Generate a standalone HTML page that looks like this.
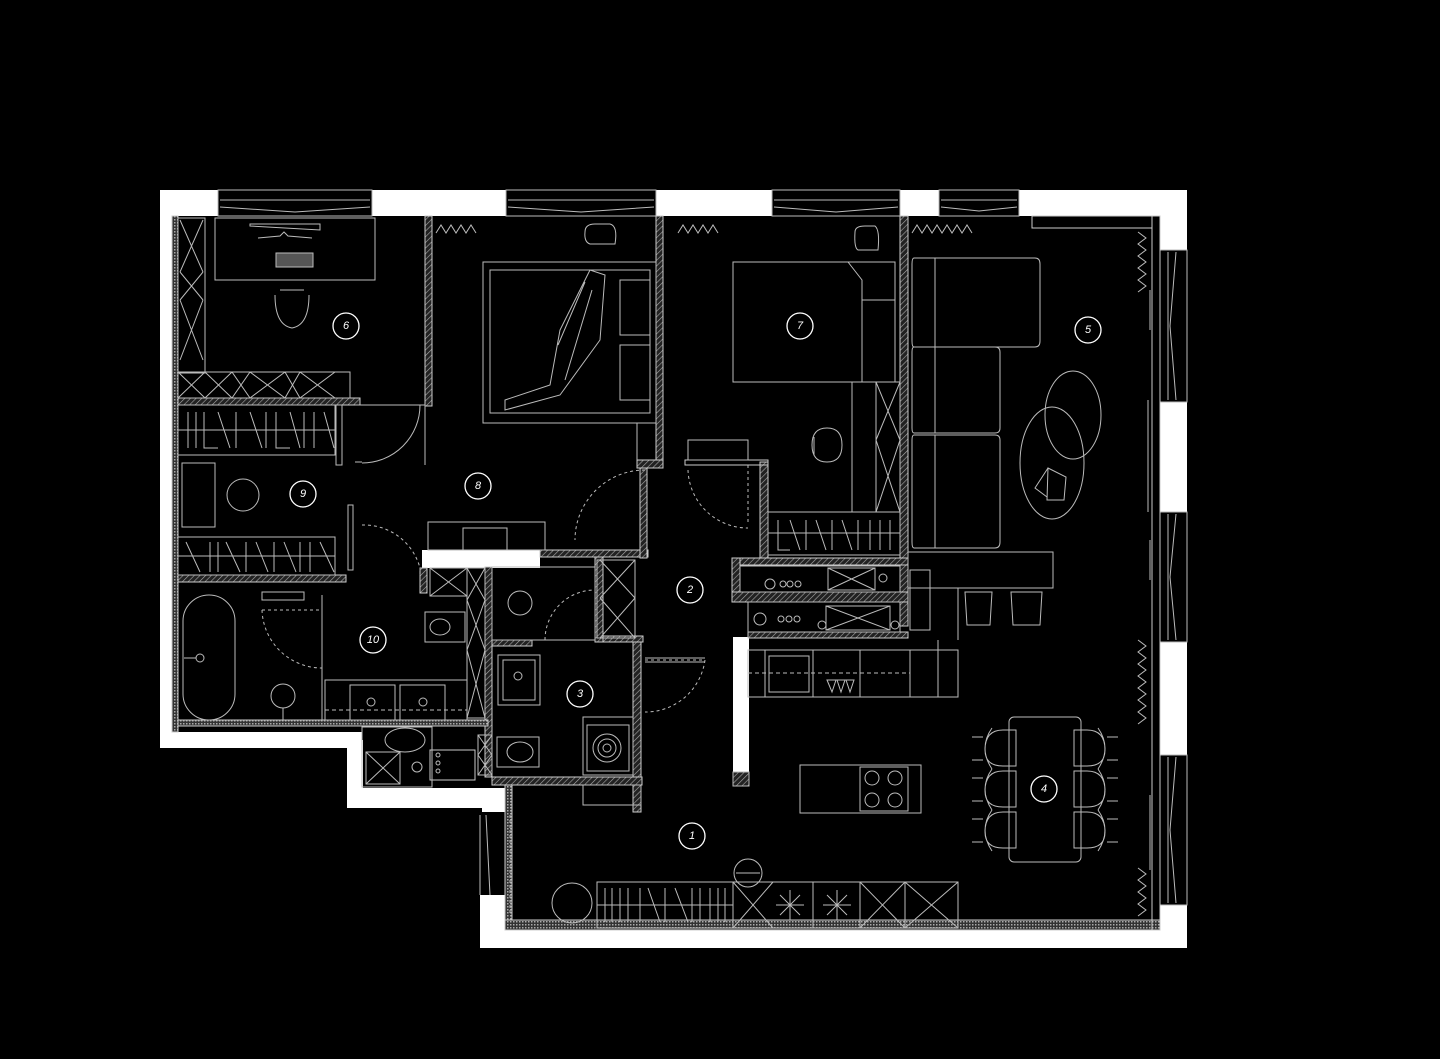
<!DOCTYPE html>
<html><head><meta charset="utf-8"><style>
html,body{margin:0;padding:0;background:#000;}
svg{display:block;}
text{font-family:"Liberation Sans",sans-serif;font-style:italic;font-size:11px;fill:#fff;text-anchor:middle;dominant-baseline:central;}
</style></head><body>
<svg width="1440" height="1059" viewBox="0 0 1440 1059" xmlns="http://www.w3.org/2000/svg">
<defs>
<pattern id="h" width="4" height="4" patternUnits="userSpaceOnUse" patternTransform="rotate(45)">
<rect width="4" height="4" fill="#222"/><line x1="0" y1="0" x2="0" y2="4" stroke="#aaa" stroke-width="1.2"/>
</pattern>
<pattern id="c" width="3" height="3" patternUnits="userSpaceOnUse">
<rect width="3" height="3" fill="#333"/><rect width="1.5" height="1.5" fill="#aaa"/>
</pattern>
</defs>
<rect width="1440" height="1059" fill="#000"/>

<!-- Outer white walls -->
<g fill="#fff">
<rect x="160" y="190" width="1027" height="26"/>
<rect x="160" y="190" width="18" height="558"/>
<rect x="160" y="732" width="202" height="16"/>
<rect x="347" y="740" width="16" height="68"/>
<rect x="347" y="788" width="160" height="20"/>
<rect x="482" y="788" width="25" height="24"/>
<rect x="480" y="895" width="25" height="53"/>
<rect x="480" y="930" width="707" height="18"/>
<rect x="1160" y="190" width="27" height="758"/>
<rect x="422" y="550" width="118" height="18"/>
<rect x="733" y="637" width="16" height="135"/>
</g>
<!-- window gaps top -->
<g fill="#000" stroke="#bbb" stroke-width="1">
<rect x="218" y="190" width="154" height="26"/>
<rect x="506" y="190" width="150" height="26"/>
<rect x="772" y="190" width="128" height="26"/>
<rect x="939" y="190" width="80" height="26"/>
<rect x="1160" y="250" width="27" height="152"/>
<rect x="1160" y="512" width="27" height="130"/>
<rect x="1160" y="755" width="27" height="150"/>
</g>
<g stroke="#bbb" stroke-width="1" fill="none">
<path d="M220 200 H370 M220 207 L295 212 L370 207 M508 200 H654 M508 207 L581 212 L654 207 M774 200 H898 M774 207 L836 212 L898 207 M941 200 H1017 M941 207 L979 211 L1017 207"/>
<path d="M1168 252 V400 M1176 252 L1170 326 L1176 400 M1168 514 V640 M1176 514 L1170 577 L1176 640 M1168 757 V903 M1176 757 L1170 830 L1176 903"/>
<path d="M1150 290 V330 M1150 540 V580 M1150 795 V870 M1148 400 V512"/>
<rect x="733" y="772" width="16" height="14" fill="url(#h)"/>
</g>
<!-- interior hatched walls -->
<g stroke="#ccc" stroke-width="1" fill="url(#h)">
<rect x="172" y="216" width="6" height="516" fill="url(#c)"/>
<rect x="178" y="398" width="182" height="7"/>
<rect x="425" y="216" width="7" height="190"/>
<rect x="178" y="575" width="168" height="7"/>
<rect x="656" y="216" width="7" height="246"/>
<rect x="637" y="460" width="26" height="8"/>
<rect x="540" y="550" width="108" height="7"/>
<rect x="640" y="468" width="7" height="90"/>
<rect x="760" y="462" width="8" height="100"/>
<rect x="685" y="460" width="83" height="5" fill="none"/>
<rect x="900" y="216" width="8" height="410"/>
<rect x="732" y="558" width="176" height="7"/>
<rect x="732" y="558" width="8" height="42"/>
<rect x="732" y="592" width="176" height="10"/>
<rect x="748" y="632" width="160" height="6"/>
<rect x="595" y="557" width="8" height="85"/>
<rect x="603" y="636" width="40" height="6"/>
<rect x="633" y="642" width="8" height="170"/>
<rect x="485" y="567" width="7" height="210"/>
<rect x="492" y="640" width="40" height="6"/>
<rect x="492" y="777" width="150" height="8"/>
<rect x="178" y="720" width="310" height="6" fill="url(#c)"/>
<rect x="420" y="568" width="7" height="25"/>
<rect x="505" y="785" width="7" height="140" fill="url(#c)"/>
<rect x="505" y="920" width="655" height="10" fill="url(#c)"/>
<rect x="1152" y="216" width="8" height="714" fill="none"/>
<rect x="1032" y="216" width="120" height="12" fill="none"/>
<rect x="430" y="750" width="45" height="30" fill="none"/>
</g>

<!-- furniture lines -->
<g stroke="#bbb" stroke-width="1" fill="none">
<!-- room 6 -->
<rect x="215" y="218" width="160" height="62"/>
<path d="M250 224 H320 L320 230 L250 226 Z"/>
<path d="M258 238 L280 236 L284 232 L288 236 L312 238"/>
<rect x="276" y="253" width="37" height="14" fill="#555"/>
<path d="M275 295 Q275 325 292 328 Q309 325 309 295 M280 290 H304"/>
<rect x="178" y="218" width="27" height="155"/>
<path d="M180 220 L203 272 M203 220 L180 272 M180 272 L203 300 M203 272 L180 300 M180 300 L203 360 M203 300 L180 360"/>
<rect x="178" y="372" width="172" height="26"/>
<path d="M178 372 L205 398 M205 372 L178 398 M205 372 L232 398 M232 372 L205 398 M232 372 L250 398 M250 372 L232 398 M250 372 L285 398 M285 372 L250 398 M285 372 L300 398 M300 372 L285 398 M300 372 L335 398 M335 372 L300 398"/>
<!-- room 9 -->
<rect x="178" y="405" width="157" height="50"/>
<path d="M178 430 H335 M188 412 V448 M196 412 V448 M204 412 V448 L218 448 M218 412 L230 448 M236 412 V448 M250 412 L262 448 M266 412 V448 M276 412 V448 L290 448 M290 412 L300 448 M304 412 V448 M314 412 V448 M324 412 L334 448"/>
<rect x="182" y="463" width="33" height="64"/>
<circle cx="243" cy="495" r="16"/>
<rect x="178" y="537" width="157" height="38"/>
<path d="M178 556 H335 M186 542 L200 572 M210 542 V572 M218 542 V572 M226 542 L240 572 M246 542 V572 M256 542 L268 572 M274 542 V572 M284 542 L296 572 M300 542 V572 M310 542 V572 M320 542 L334 572"/>
<rect x="336" y="405" width="6" height="60"/>
<rect x="348" y="505" width="5" height="65"/>
<path d="M355 405 H425 V465 M355 462 H362 M420 405 A58 58 0 0 1 362 463" stroke-dasharray="0"/>
<!-- bedroom -->
<rect x="483" y="262" width="173" height="161"/>
<rect x="490" y="270" width="160" height="143"/>
<rect x="620" y="280" width="30" height="55"/><rect x="620" y="345" width="30" height="55"/>
<path d="M590 270 L560 330 L550 385 L505 400 L505 410 L560 395 L600 340 L605 275 Z M585 282 L558 345 M592 290 L565 380"/>
<path d="M585 232 Q585 224 595 224 H610 Q618 226 615 244 H590 Q584 242 585 232 Z"/>
<path d="M637 423 V460"/>
<rect x="428" y="522" width="117" height="28"/>
<rect x="463" y="528" width="44" height="22"/>
<!-- room 7 -->
<rect x="733" y="262" width="162" height="120"/>
<path d="M848 262 L862 280 V382 M862 300 H895"/>
<path d="M855 232 Q855 226 865 226 H875 Q880 230 878 250 H858 Q854 248 855 232 Z"/>
<path d="M812 445 Q812 428 827 428 Q842 428 842 445 Q842 462 827 462 Q812 462 812 445 Z M814 437 V455"/>
<rect x="876" y="382" width="24" height="130"/>
<path d="M876 382 L900 440 M900 382 L876 440 M876 440 L900 512 M900 440 L876 512 M852 382 V512"/>
<rect x="768" y="512" width="132" height="43"/>
<path d="M768 533 H900 M778 520 V550 L790 550 M790 520 L800 550 M806 520 V550 M816 520 L826 550 M832 520 V550 M842 520 L852 550 M858 520 V550 M870 520 V550 M880 520 V550 M890 520 V550"/>
<rect x="688" y="440" width="60" height="20"/>
<path d="M748 465 V525 M688 470 A60 60 0 0 0 748 528" stroke-dasharray="3 3"/>
<!-- living -->
<path d="M914 258 H1035 Q1040 258 1040 264 V341 Q1040 347 1035 347 H914 Q912 347 912 341 V264 Q912 258 914 258 Z M935 258 V347"/>
<path d="M914 347 H995 Q1000 347 1000 352 V428 Q1000 433 995 433 H914 Q912 433 912 428 V352 Q912 347 914 347 Z M935 347 V433"/>
<path d="M914 435 H995 Q1000 435 1000 440 V542 Q1000 548 995 548 H914 Q912 548 912 542 V440 Q912 435 914 435 Z M935 435 V548"/>
<ellipse cx="1073" cy="415" rx="28" ry="44"/>
<ellipse cx="1052" cy="463" rx="32" ry="56"/>
<path d="M1048 468 L1066 477 L1064 500 L1047 500 Z M1048 468 L1035 488 L1047 497"/>
<rect x="908" y="552" width="145" height="36"/>
<path d="M965 592 H992 L990 625 H967 Z M1011 592 H1042 L1040 625 H1013 Z M958 588 V640 M910 570 H930 V630 H910 Z"/>
<!-- kitchen -->
<rect x="740" y="566" width="160" height="26"/>
<path d="M828 568 H875 V590 H828 Z M828 568 L875 590 M875 568 L828 590"/>
<circle cx="770" cy="584" r="5"/><circle cx="783" cy="584" r="3"/><circle cx="790" cy="584" r="3"/><circle cx="798" cy="584" r="3"/><circle cx="883" cy="578" r="4"/>
<rect x="748" y="602" width="152" height="30"/>
<path d="M826 606 H890 V630 H826 Z M826 606 L890 630 M890 606 L826 630"/>
<circle cx="760" cy="619" r="6"/><circle cx="781" cy="619" r="3"/><circle cx="789" cy="619" r="3"/><circle cx="797" cy="619" r="3"/><circle cx="822" cy="625" r="4"/><circle cx="895" cy="625" r="4"/>
<rect x="748" y="650" width="210" height="47"/>
<path d="M765 650 V697 M813 650 V697 M860 650 V697 M910 650 V697" />
<path d="M748 673 H910" stroke-dasharray="4 3"/>
<rect x="769" y="656" width="40" height="36"/>
<path d="M827 680 L832 692 L836 680 Z M837 680 L841 692 L845 680 Z M846 680 L850 692 L854 680 Z"/>
<rect x="800" y="765" width="121" height="48"/>
<rect x="860" y="767" width="48" height="44"/>
<circle cx="872" cy="778" r="7"/><circle cx="895" cy="778" r="7"/><circle cx="872" cy="800" r="7"/><circle cx="895" cy="800" r="7"/>
<path d="M938 640 V697 H958"/>
<!-- dining -->
<rect x="1009" y="717" width="72" height="145" rx="5"/>
<g id="ch">
<path d="M1016 730 H1003 Q985 730 985 750 Q985 766 1003 766 H1016 Z M992 728 Q978 748 992 769 M983 737 H972 M983 760 H972"/>
</g>
<use href="#ch" y="41"/><use href="#ch" y="82"/>
<g transform="translate(2090 0) scale(-1 1)"><use href="#ch"/><use href="#ch" y="41"/><use href="#ch" y="82"/></g>
<!-- entry -->
<rect x="597" y="882" width="361" height="46"/>
<path d="M733 882 V928 M813 882 V928 M860 882 V928 M905 882 V928 M597 905 H733 M605 888 V922 M612 888 V922 M620 888 V922 M628 888 V922 M640 888 V922 M648 888 L660 922 M665 888 V922 M675 888 L688 922 M692 888 V922 M700 888 V922 M710 888 V922 M718 888 V922 M725 888 V922"/>
<path d="M733 882 L773 928 M773 882 L733 928 M860 882 L905 928 M905 882 L860 928 M905 882 L958 928 M958 882 L905 928"/>
<path d="M790 890 V920 M776 905 H804 M780 895 L800 915 M800 895 L780 915 M837 890 V920 M823 905 H851 M827 895 L847 915 M847 895 L827 915"/>
<circle cx="572" cy="903" r="20"/>
<circle cx="748" cy="873" r="14"/>
<path d="M736 873 H760"/>
<path d="M486 815 L490 895 M480 815 V895" />
<path d="M510 815 V915" stroke-dasharray="3 2"/>
<rect x="583" y="785" width="58" height="20"/>
<!-- corridor doors -->
<path d="M645 470 A70 70 0 0 0 575 540" stroke-dasharray="3 3"/>
<path d="M645 660 H705 M705 660 A60 60 0 0 1 645 712" stroke-dasharray="3 3"/>
<path d="M645 658 H705 M645 662 H705"/>
<path d="M420 568 V575 M362 525 A58 58 0 0 1 420 568" stroke-dasharray="3 3"/>
<!-- wc & laundry -->
<rect x="492" y="567" width="103" height="73"/>
<circle cx="520" cy="603" r="12"/>
<path d="M545 640 A50 50 0 0 1 595 590" stroke-dasharray="3 3"/>
<rect x="597" y="560" width="38" height="78"/>
<path d="M600 560 L635 598 M635 560 L600 598 M600 598 L635 638 M635 598 L600 638"/>
<rect x="498" y="655" width="42" height="50"/><rect x="503" y="660" width="32" height="40"/><circle cx="518" cy="676" r="4"/>
<rect x="583" y="717" width="50" height="58"/><rect x="587" y="725" width="42" height="46"/>
<circle cx="607" cy="748" r="14"/><circle cx="607" cy="748" r="9"/><circle cx="607" cy="748" r="4"/>
<rect x="497" y="737" width="42" height="30"/><ellipse cx="520" cy="752" rx="13" ry="10"/>
<rect x="478" y="735" width="14" height="40"/>
<path d="M478 735 L492 755 M492 735 L478 755 M478 755 L492 775 M492 755 L478 775"/>
<!-- bath 10 -->
<rect x="183" y="595" width="52" height="125" rx="26"/>
<circle cx="200" cy="658" r="4"/><path d="M184 658 H196"/>
<circle cx="283" cy="696" r="12"/><path d="M283 708 V720"/>
<path d="M262 610 H322 M262 610 A60 60 0 0 0 322 668" stroke-dasharray="3 3"/>
<path d="M322 595 V720"/>
<rect x="262" y="592" width="42" height="8"/>
<rect x="325" y="680" width="142" height="40"/>
<rect x="350" y="685" width="45" height="35"/><rect x="400" y="685" width="45" height="35"/>
<circle cx="371" cy="702" r="4"/><circle cx="423" cy="702" r="4"/>
<path d="M325 710 H467" stroke-dasharray="4 3"/>
<rect x="425" y="612" width="40" height="30"/><ellipse cx="440" cy="627" rx="10" ry="8"/>
<rect x="467" y="568" width="18" height="150"/>
<path d="M467 568 L485 600 M485 568 L467 600 M467 600 L485 650 M485 600 L467 650 M467 650 L485 718 M485 650 L467 718"/>
<rect x="430" y="568" width="37" height="28"/><path d="M430 568 L467 596 M467 568 L430 596"/>
<rect x="362" y="727" width="70" height="60"/>
<ellipse cx="405" cy="740" rx="20" ry="12"/>
<rect x="366" y="752" width="34" height="32"/><path d="M366 752 L400 784 M400 752 L366 784"/>
<circle cx="417" cy="767" r="5"/>
<circle cx="438" cy="755" r="2"/><circle cx="438" cy="763" r="2"/><circle cx="438" cy="771" r="2"/>
</g>
<!-- curtains -->
<g stroke="#bbb" stroke-width="1" fill="none">
<polyline points="436,233 441,225 446,233 451,225 456,233 461,225 466,233 471,225 476,233"/>
<polyline points="678,233 683,225 688,233 693,225 698,233 703,225 708,233 713,225 718,233"/>
<polyline points="912,233 917,225 922,233 927,225 932,233 937,225 942,233 947,225 952,233 957,225 962,233 967,225 972,233"/>
<polyline points="1138,232 1146,238 1138,244 1146,250 1138,256 1146,262 1138,268 1146,274 1138,280 1146,286 1138,292"/>
<polyline points="1138,640 1146,646 1138,652 1146,658 1138,664 1146,670 1138,676 1146,682 1138,688 1146,694 1138,700 1146,706 1138,712 1146,718 1138,724"/>
<polyline points="1138,868 1146,874 1138,880 1146,886 1138,892 1146,898 1138,904 1146,910 1138,916"/>
</g>
<!-- labels -->
<g stroke="#fff" stroke-width="1.3" fill="none">
<circle cx="346" cy="326" r="13"/><circle cx="303" cy="494" r="13"/><circle cx="478" cy="486" r="13"/>
<circle cx="800" cy="326" r="13"/><circle cx="1088" cy="330" r="13"/><circle cx="690" cy="590" r="13"/>
<circle cx="580" cy="694" r="13"/><circle cx="373" cy="640" r="13"/><circle cx="692" cy="836" r="13"/><circle cx="1044" cy="789" r="13"/>
</g>
<text x="346" y="326">6</text><text x="303" y="494">9</text><text x="478" y="486">8</text>
<text x="800" y="326">7</text><text x="1088" y="330">5</text><text x="690" y="590">2</text>
<text x="580" y="694">3</text><text x="373" y="640">10</text><text x="692" y="836">1</text><text x="1044" y="789">4</text>
</svg>
</body></html>
